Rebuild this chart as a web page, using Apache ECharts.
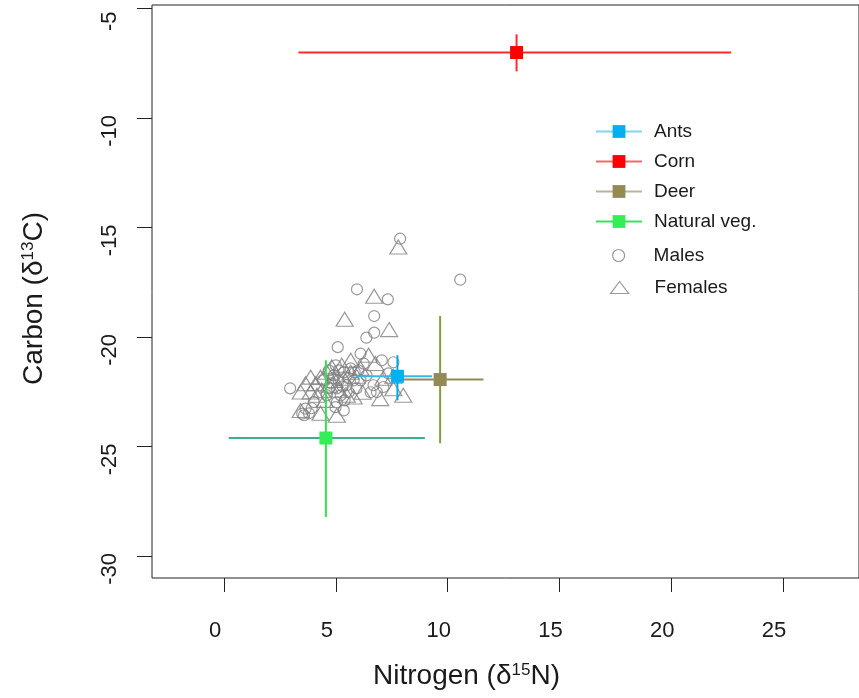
<!DOCTYPE html>
<html>
<head>
<meta charset="utf-8">
<script src="https://cdn.jsdelivr.net/npm/echarts@6/dist/echarts.min.js"></script>
<style>html,body{margin:0;padding:0;background:#fff}#c{width:859px;height:698px}</style>
</head>
<body>
<div id="c"></div>
<script>
// ---- data ----
const groups = ['Ants', 'Corn', 'Deer', 'Natural veg.'];
const groupN = [7.75, 13.08, 9.66, 4.55];
const groupC = [-21.80, -7.02, -21.95, -24.62];
const groupNlo = [5.88, 3.32, 7.79, 0.20];
const groupNhi = [9.30, 22.68, 11.60, 8.98];
const groupClo = [-22.90, -7.88, -24.86, -28.23];
const groupChi = [-20.84, -6.19, -19.05, -21.07];

const malesN = [7.87,10.56,5.94,7.32,6.71,6.71,6.36,5.08,2.95,6.10,7.05,7.57,6.24,6.01,6.68,7.12,6.83,3.64,3.92,3.57,3.79,4.01,4.98,5.35,3.49,4.68,4.90,5.12,5.35,5.57,5.04,5.21,5.48,5.79,4.77,4.99,5.66,5.92,5.39,4.59,5.12,5.57,5.84,4.86,5.30,4.41,6.10,6.37,6.55,7.35,5.04,4.68];
const malesC = [-15.52,-17.39,-17.83,-18.29,-19.05,-19.81,-20.04,-20.47,-22.35,-20.77,-21.07,-21.16,-21.22,-21.53,-22.21,-22.29,-22.52,-23.28,-23.26,-23.58,-23.49,-22.98,-23.21,-23.36,-23.51,-21.53,-21.76,-21.99,-21.62,-21.89,-22.35,-22.67,-22.21,-21.99,-22.12,-21.30,-21.44,-22.35,-22.90,-22.67,-21.53,-22.53,-21.62,-21.89,-22.26,-21.99,-21.99,-21.76,-22.53,-21.67,-22.99,-22.35];
const femalesN = [7.79,6.71,5.39,7.38,3.87,3.64,4.31,4.09,3.42,3.87,4.81,5.26,4.37,3.42,5.04,4.31,6.46,6.76,8.01,6.98,5.79,7.57,4.59,4.95,5.35,5.66,5.12,5.48,4.68,5.92,6.10,7.12,7.57,6.19,4.50,5.66,4.15];
const femalesC = [-15.90,-18.15,-19.20,-19.67,-21.84,-22.14,-21.84,-22.14,-22.52,-22.52,-21.38,-21.30,-22.44,-23.36,-23.58,-23.49,-20.84,-21.22,-22.67,-22.82,-22.75,-22.37,-21.62,-21.99,-21.89,-21.62,-22.44,-22.67,-22.21,-21.80,-21.44,-21.89,-21.80,-22.53,-22.90,-21.07,-22.67];

const xTicks = [0, 5, 10, 15, 20, 25];
const yTicks = [-30, -25, -20, -15, -10, -5];

// ---- styles ----
const markColors = ['#00B0F0', '#FF0000', '#948A54', '#33EE55'];
const legendLineColors = ['#80D4F4', '#F26A6A', '#BCB49A', '#3BE060'];
const hColors = ['#33B8EC', '#FF2A2A', '#948A54', '#3FAE8C'];
const vColors = ['#00A8EA', '#FF2A2A', '#7FA040', '#35E24F'];
const FONT = 'Liberation Sans';
const INK = '#1a1a1a';

const chart = echarts.init(document.getElementById('c'), null, {renderer: 'canvas'});

const series = [];
series.push({
  name: 'Males', type: 'scatter', z: 1,
  symbol: 'circle', symbolSize: 11,
  itemStyle: {color: 'transparent', borderColor: '#808080', borderWidth: 1.2},
  data: malesN.map((n, i) => [n, malesC[i]])
});
series.push({
  name: 'Females', type: 'scatter', z: 1,
  symbol: 'triangle', symbolSize: [17, 14],
  itemStyle: {color: 'transparent', borderColor: '#808080', borderWidth: 1.2},
  data: femalesN.map((n, i) => [n, femalesC[i]])
});
groups.forEach((g, i) => {
  series.push({
    name: g + ' error', type: 'custom', z: 2,
    data: [[groupN[i], groupC[i], groupNlo[i], groupNhi[i], groupClo[i], groupChi[i]]],
    encode: {x: [0, 2, 3], y: [1, 4, 5]},
    silent: true,
    renderItem: function (params, api) {
      const l = api.coord([api.value(2), api.value(1)]);
      const r = api.coord([api.value(3), api.value(1)]);
      const b = api.coord([api.value(0), api.value(4)]);
      const t = api.coord([api.value(0), api.value(5)]);
      return {type: 'group', children: [
        {type: 'line', shape: {x1: l[0], y1: l[1], x2: r[0], y2: r[1]}, style: {stroke: hColors[i], lineWidth: 2}},
        {type: 'line', shape: {x1: t[0], y1: t[1], x2: b[0], y2: b[1]}, style: {stroke: vColors[i], lineWidth: 2}}
      ]};
    }
  });
});
groups.forEach((g, i) => {
  series.push({
    name: g, type: 'line', z: 3,
    symbol: 'rect', symbolSize: 13,
    itemStyle: {color: markColors[i]},
    lineStyle: {color: legendLineColors[i], width: 2},
    data: [[groupN[i], groupC[i]]]
  });
});

const legendText = {fontSize: 19, fontFamily: FONT, color: INK, padding: [0, 0, 0, 7]};
const legendText2 = {fontSize: 19, fontFamily: FONT, color: INK, padding: [0, 0, 0, 21]};

chart.setOption({
  animation: false,
  backgroundColor: '#fff',
  grid: {left: 152, top: 5, bottom: 120, right: -8, show: true, borderColor: '#222', borderWidth: 1, containLabel: false},
  xAxis: {
    type: 'value', min: -3.23, max: 28.4,
    axisLine: {show: false, onZero: false},
    splitLine: {show: false},
    axisTick: {show: true, length: 14, lineStyle: {color: '#222', width: 1}, customValues: xTicks},
    axisLabel: {customValues: xTicks, margin: 42, fontSize: 22, fontFamily: FONT, color: INK, padding: [0, 18, 0, 0]},
    name: 'Nitrogen (δ{s|15}N)', nameLocation: 'middle', nameGap: 84,
    nameTextStyle: {fontSize: 28, fontFamily: FONT, color: INK, padding: [0, 78, 0, 0],
      rich: {s: {fontSize: 17, fontFamily: FONT, color: INK, verticalAlign: 'top'}}}
  },
  yAxis: {
    type: 'value', min: -31.01, max: -4.85,
    axisLine: {show: false, onZero: false},
    splitLine: {show: false},
    axisTick: {show: true, length: 15, lineStyle: {color: '#222', width: 1}, customValues: yTicks},
    axisLabel: {customValues: yTicks, rotate: 90, margin: 31, fontSize: 22, fontFamily: FONT, color: INK, padding: [0, 26, 0, 0]},
    name: 'Carbon (δ{s|13}C)', nameLocation: 'middle', nameGap: 104,
    nameTextStyle: {fontSize: 28, fontFamily: FONT, color: INK, padding: [0, 14, 0, 0],
      rich: {s: {fontSize: 17, fontFamily: FONT, color: INK, verticalAlign: 'top'}}}
  },
  legend: [
    {
      data: groups, orient: 'vertical', left: 595, top: 122, padding: 0,
      itemWidth: 46, itemHeight: 16, itemGap: 11,
      textStyle: legendText, selectedMode: false
    },
    {
      data: ['Males'], orient: 'vertical', left: 612, top: 246, padding: 0,
      itemWidth: 18, itemHeight: 12,
      itemStyle: {borderWidth: 1.2},
      textStyle: legendText2, selectedMode: false
    },
    {
      data: ['Females'], orient: 'vertical', left: 610, top: 278, padding: 0,
      itemWidth: 18, itemHeight: 12,
      itemStyle: {borderWidth: 1.2},
      textStyle: legendText2, selectedMode: false
    }
  ],
  series: series
});
</script>
</body>
</html>
